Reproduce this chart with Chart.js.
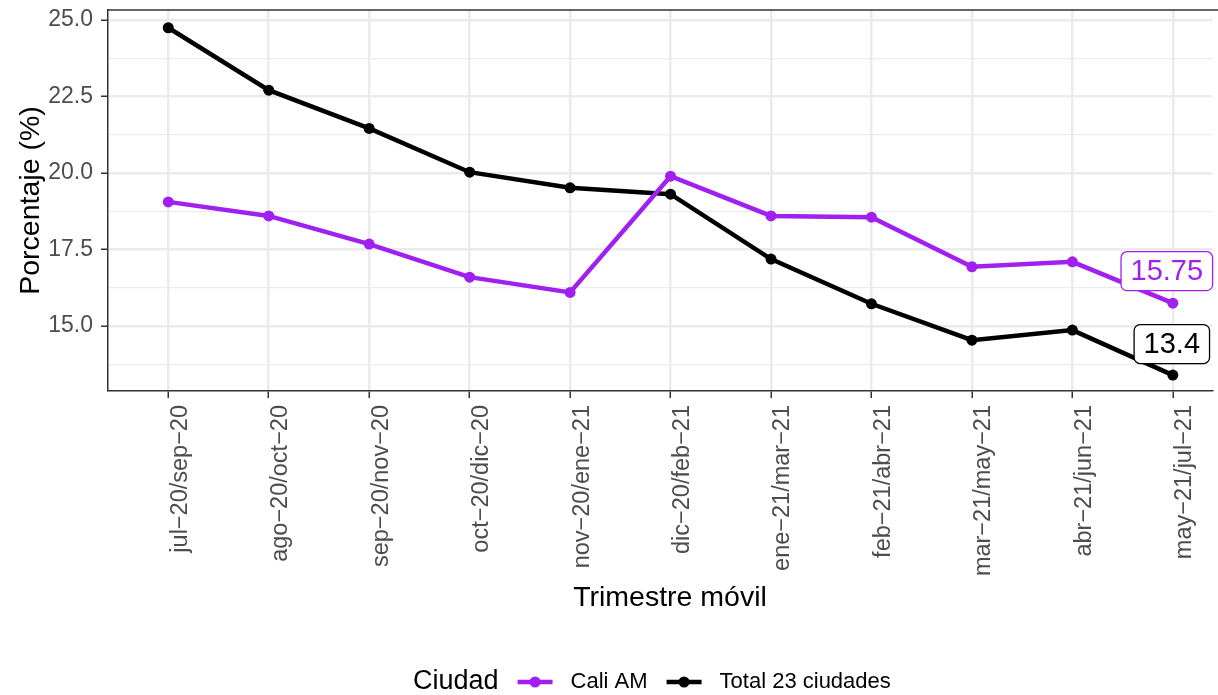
<!DOCTYPE html>
<html>
<head>
<meta charset="utf-8">
<script src="https://cdn.jsdelivr.net/npm/chart.js@4.4.1/dist/chart.umd.min.js"></script>
<style>
  html, body { margin: 0; padding: 0; background: #fff; overflow: hidden; }
  canvas { display: block; }
</style>
</head>
<body>
<canvas id="graficoCiudades" width="1218" height="695"></canvas>
<script>
// Datos
const categorias = [
  "jul−20/sep−20", "ago−20/oct−20", "sep−20/nov−20", "oct−20/dic−20",
  "nov−20/ene−21", "dic−20/feb−21", "ene−21/mar−21", "feb−21/abr−21",
  "mar−21/may−21", "abr−21/jun−21", "may−21/jul−21"
];
const caliAM = [19.06, 18.60, 17.68, 16.60, 16.10, 19.90, 18.60, 18.56, 16.94, 17.10, 15.75];
const total23 = [24.75, 22.71, 21.46, 20.03, 19.52, 19.31, 17.19, 15.73, 14.54, 14.87, 13.40];
const ticksMayores = [15, 17.5, 20, 22.5, 25];
const ticksMenores = [13.75, 16.25, 18.75, 21.25, 23.75];
const nombresSeries = ["Cali AM", "Total 23 ciudades"];

const MORADO = "#A020F0";
const NEGRO = "#000000";
const FUENTE = "'Liberation Sans', Arial, Helvetica, sans-serif";

function aPuntos(valores) {
  return valores.map((v, i) => ({ x: i, y: v }));
}

function cajaRedondeada(ctx, x, y, w, h, r) {
  ctx.beginPath();
  ctx.moveTo(x + r, y);
  ctx.lineTo(x + w - r, y);
  ctx.arcTo(x + w, y, x + w, y + r, r);
  ctx.lineTo(x + w, y + h - r);
  ctx.arcTo(x + w, y + h, x + w - r, y + h, r);
  ctx.lineTo(x + r, y + h);
  ctx.arcTo(x, y + h, x, y + h - r, r);
  ctx.lineTo(x, y + r);
  ctx.arcTo(x, y, x + r, y, r);
  ctx.closePath();
}

// Marco, títulos, etiquetas finales y leyenda al estilo ggplot
const estiloGgplot = {
  id: "estiloGgplot",
  beforeDraw(chart) {
    const ctx = chart.ctx;
    ctx.save();
    ctx.fillStyle = "#fff";
    ctx.fillRect(0, 0, chart.width, chart.height);
    ctx.restore();
  },
  afterDatasetsDraw(chart) {
    const ctx = chart.ctx;
    const desplaz = [{ dx: -6, dy: -32 }, { dx: -1, dy: -31 }];
    chart.data.datasets.forEach((ds, i) => {
      const meta = chart.getDatasetMeta(i);
      const ult = meta.data[meta.data.length - 1];
      const texto = String(ds.data[ds.data.length - 1].y);
      ctx.save();
      ctx.font = "29px " + FUENTE;
      const w = ctx.measureText(texto).width + 19;
      const h = 39;
      const cx = ult.x + desplaz[i].dx;
      const cy = ult.y + desplaz[i].dy;
      cajaRedondeada(ctx, cx - w / 2, cy - h / 2, w, h, 6);
      ctx.fillStyle = "#fff";
      ctx.fill();
      ctx.lineWidth = 1.3;
      ctx.strokeStyle = ds.borderColor;
      ctx.stroke();
      ctx.fillStyle = ds.borderColor;
      ctx.textAlign = "center";
      ctx.textBaseline = "middle";
      ctx.fillText(texto, cx, cy + 1);
      ctx.restore();
    });
  },
  afterDraw(chart) {
    const ctx = chart.ctx;
    const a = chart.chartArea;
    ctx.save();
    // borde superior del panel
    ctx.strokeStyle = "#333333";
    ctx.lineWidth = 1.5;
    ctx.beginPath();
    ctx.moveTo(a.left, a.top);
    ctx.lineTo(chart.width, a.top);
    ctx.stroke();

    // títulos de los ejes
    ctx.fillStyle = "#000";
    ctx.font = "28.5px " + FUENTE;
    ctx.textAlign = "center";
    ctx.textBaseline = "middle";
    ctx.fillText("Trimestre móvil", 670, 598);
    ctx.save();
    ctx.translate(31, (a.top + a.bottom) / 2);
    ctx.rotate(-Math.PI / 2);
    ctx.fillText("Porcentaje (%)", 0, 0);
    ctx.restore();

    // leyenda
    let x = 413;
    const y = 682;
    ctx.textAlign = "left";
    ctx.font = "27px " + FUENTE;
    ctx.fillText("Ciudad", x, y);
    x += ctx.measureText("Ciudad").width + 19;
    ctx.font = "22px " + FUENTE;
    chart.data.datasets.forEach((ds) => {
      ctx.strokeStyle = ds.borderColor;
      ctx.fillStyle = ds.borderColor;
      ctx.lineWidth = 4.5;
      ctx.beginPath();
      ctx.moveTo(x, y);
      ctx.lineTo(x + 35, y);
      ctx.stroke();
      ctx.beginPath();
      ctx.arc(x + 17.5, y, 5.5, 0, Math.PI * 2);
      ctx.fill();
      x += 35 + 18;
      ctx.fillStyle = "#000";
      ctx.fillText(ds.label, x, y);
      x += ctx.measureText(ds.label).width + 19;
    });
    ctx.restore();
  }
};

new Chart(document.getElementById("graficoCiudades"), {
  type: "line",
  data: {
    datasets: [
      {
        label: nombresSeries[0],
        data: aPuntos(caliAM),
        borderColor: MORADO,
        backgroundColor: MORADO,
        pointBackgroundColor: MORADO,
      },
      {
        label: nombresSeries[1],
        data: aPuntos(total23),
        borderColor: NEGRO,
        backgroundColor: NEGRO,
        pointBackgroundColor: NEGRO,
      },
    ],
  },
  options: {
    responsive: false,
    animation: false,
    layout: { padding: { top: 10, left: 0, right: 0, bottom: 0 } },
    elements: {
      line: { borderWidth: 4.5, tension: 0 },
      point: { radius: 5.5, borderWidth: 0, hoverRadius: 5.5 },
    },
    plugins: {
      legend: { display: false },
      tooltip: { enabled: false },
    },
    scales: {
      x: {
        type: "linear",
        min: -0.6,
        max: 10.395,
        afterBuildTicks: (s) => { s.ticks = categorias.map((_, i) => ({ value: i })); },
        afterFit: (s) => {
          s.height = 304;
          s.paddingLeft = 0;
          s.paddingRight = 0;
        },
        ticks: {
          autoSkip: false,
          minRotation: 90,
          maxRotation: 90,
          padding: 7,
          labelOffset: 12,
          color: "#4D4D4D",
          font: { family: FUENTE, size: 23.5 },
          callback: (v) => categorias[v],
        },
        grid: {
          color: "#EBEBEB",
          lineWidth: 2.5,
          drawTicks: true,
          tickLength: 7,
          tickColor: "#333333",
          tickWidth: 1.5,
        },
        border: { display: true, color: "#333333", width: 1.5 },
      },
      y: {
        min: 12.88,
        max: 25.33,
        afterBuildTicks: (s) => {
          s.ticks = ticksMenores.concat(ticksMayores)
            .sort((p, q) => p - q)
            .map((v) => ({ value: v }));
        },
        afterFit: (s) => {
          s.width = 108;
          s.paddingTop = 0;
          s.paddingBottom = 0;
        },
        ticks: {
          padding: 8,
          color: "#4D4D4D",
          font: { family: FUENTE, size: 23 },
          callback: (v) => (ticksMayores.includes(v) ? v.toFixed(1) : ""),
        },
        grid: {
          color: "#EBEBEB",
          lineWidth: (c) => (ticksMayores.includes(c.tick.value) ? 2.5 : 1.3),
          drawTicks: true,
          tickLength: 7,
          tickColor: (c) => (ticksMayores.includes(c.tick.value) ? "#333333" : "rgba(0,0,0,0)"),
          tickWidth: 1.5,
        },
        border: { display: true, color: "#333333", width: 1.5 },
      },
    },
  },
  plugins: [estiloGgplot],
});
</script>
</body>
</html>
